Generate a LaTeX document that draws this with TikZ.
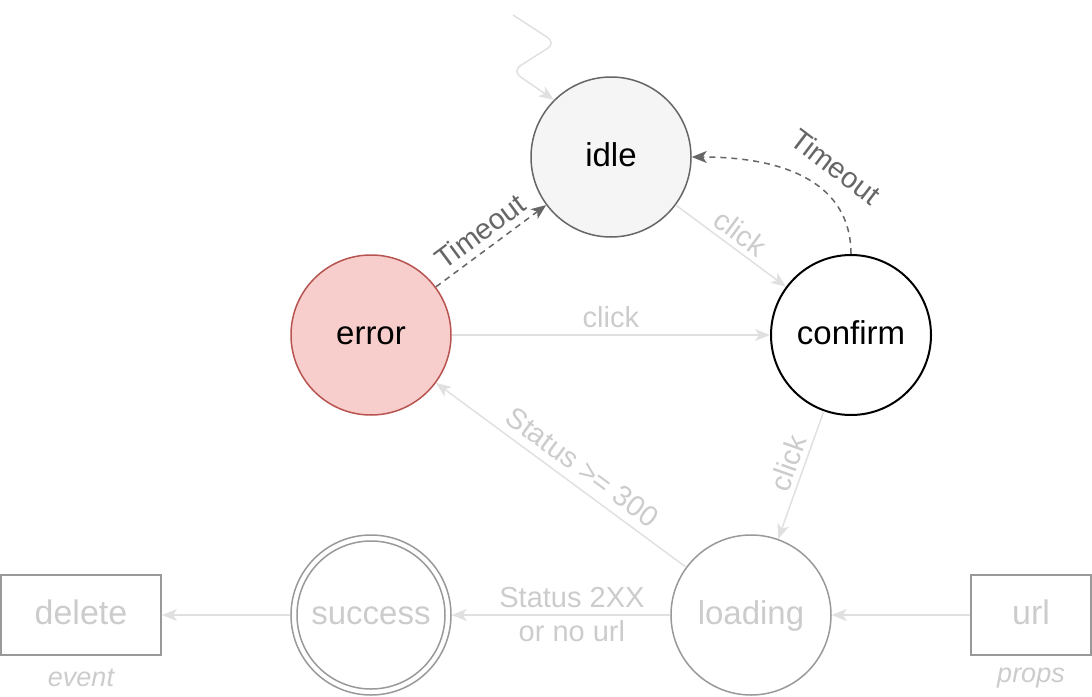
\documentclass[tikz,border=0pt]{standalone}
\usepackage{fontspec}
\setmainfont{Liberation Sans}
\usetikzlibrary{arrows.meta}
\definecolor{lightline}{HTML}{E0E0E0}
\definecolor{lighttext}{HTML}{CCCCCC}
\definecolor{darkline}{HTML}{666666}
\definecolor{boxline}{HTML}{999999}
\definecolor{errfill}{HTML}{F8CECC}
\definecolor{errline}{HTML}{B85450}
\definecolor{idlefill}{HTML}{F5F5F5}
\begin{document}
\begin{tikzpicture}[x=1pt,y=-1pt,
  state/.style={circle, minimum size=160pt, inner sep=0pt, line width=1.5pt, text height=25pt, text depth=7pt, font=\fontsize{33}{36}\selectfont},
  boxnode/.style={rectangle, draw=boxline, line width=2pt, minimum height=80pt, inner sep=0pt, text height=25pt, text depth=7pt, text=lighttext, font=\fontsize{34}{36}\selectfont},
  sublbl/.style={text=lighttext, font=\fontsize{27}{30}\selectfont\itshape},
  lightarrow/.style={draw=lightline, line width=1.5pt, -{Stealth[length=15pt,width=12pt,inset=4pt]}},
  darkarrow/.style={draw=darkline, line width=1.5pt, dash pattern=on 6pt off 5pt, -{Stealth[length=15pt,width=12pt,inset=4pt]}},
  lbl/.style={text=lighttext, font=\fontsize{29}{33}\selectfont, inner sep=5pt},
  tlbl/.style={text=darkline, font=\fontsize{29}{33}\selectfont, inner sep=5pt}
]
\useasboundingbox (0,0) rectangle (1092,696);

\node[state, draw=darkline, fill=idlefill] (idle) at (611,157) {idle};
\node[state, draw=errline, fill=errfill] (error) at (371,335) {error};
\node[state, draw=black, fill=white, line width=2pt] (confirm) at (851,335) {confirm};
\node[state, draw=boxline, text=lighttext] (loading) at (751,615) {loading};
\node[state, draw=boxline, text=lighttext] (success) at (371,615) {success};
\draw[boxline, line width=1.5pt] (success.center) circle[radius=74pt];

\node[boxnode, minimum width=160pt] (delete) at (81,615) {delete};
\node[boxnode, minimum width=120pt] (url) at (1031,615) {url};
\node[sublbl] (event) at (81,678) {event};
\node[sublbl] (props) at (1031,678) {props};

\coordinate (start) at (513,15);
\draw[lightarrow, rounded corners=10pt] (start) -- (556,43) -- (512,71) -- (idle.135);

\draw[lightarrow] (idle) -- node[lbl, sloped, above] (l1) {click} (confirm);
\draw[darkarrow] (error) -- node[tlbl, sloped, above=2pt] (l2) {Timeout} (idle);
\draw[darkarrow] (confirm.north) .. controls +(0,-70) and +(95,0) .. node[tlbl, sloped, above=10pt, pos=0.42] (l3) {Timeout} (idle.east);
\draw[lightarrow] (error) -- node[lbl, above=1pt] (l4) {click} (confirm);
\draw[lightarrow] (confirm) -- node[lbl, sloped, above, pos=0.45] (l5) {click} (loading);
\draw[lightarrow] (loading) -- node[lbl, sloped, above=3pt, pos=0.46] (l6) {Status >= 300} (error);
\draw[lightarrow] (loading) -- node[lbl, align=center, pos=0.45] (l7) {Status 2XX\\[1pt]or no url} (success);
\draw[lightarrow] (success) -- (delete);
\draw[lightarrow] (url) -- (loading);
\end{tikzpicture}
\end{document}
